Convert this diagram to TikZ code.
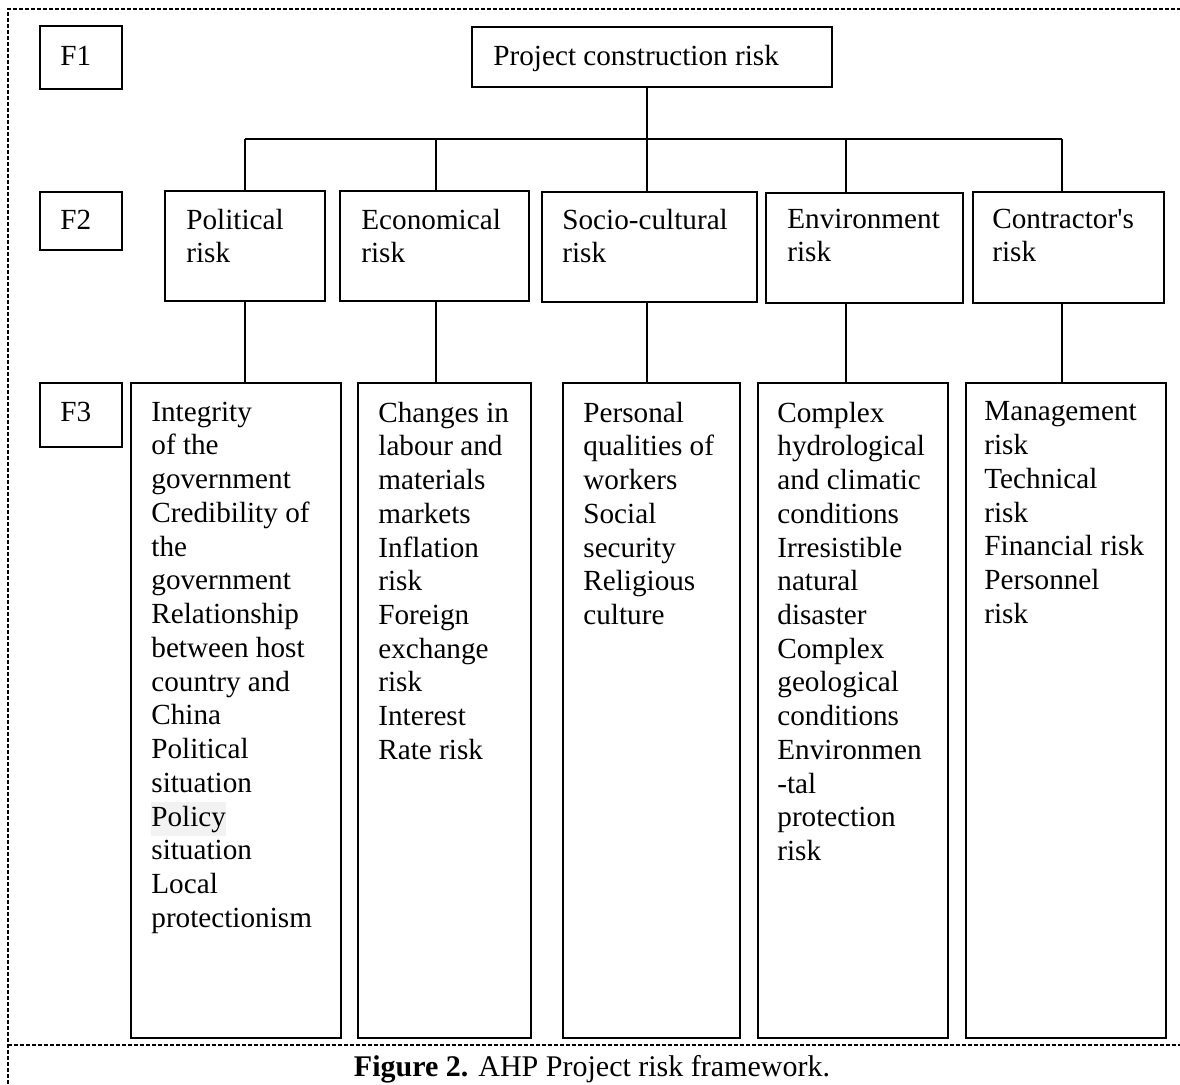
\documentclass[tikz,border=0pt]{standalone}
\usepackage{fontspec}
\setmainfont{Liberation Serif}
\usetikzlibrary{fit}
\definecolor{hl}{HTML}{F2F2F2}
\setlength{\fboxsep}{0pt}
\begin{document}
\begin{tikzpicture}[x=0.5pt,y=-0.5pt,
  every node/.style={font=\fontsize{14.6}{16.87}\selectfont},
  boxnode/.style={draw,line width=1pt,inner sep=0pt,rectangle},
  lbl/.style={inner sep=0pt,align=left,anchor=north west,execute at begin node=\strut},
  tag/.style={inner sep=0pt,anchor=base west},
  conn/.style={line width=0.8pt},
  border/.style={line width=1pt,dash pattern=on 2.2pt off 0.8pt}]
\useasboundingbox (0,0) rectangle (1180,1084);
% border
\coordinate (bl1) at (8,1084);
\coordinate (bl2) at (8,9);
\coordinate (bl3) at (1180,9);
\coordinate (bl4) at (8,1045);
\coordinate (bl5) at (1180,1045);
\draw[border] (bl1) -- (bl2) -- (bl3);
\draw[border] (bl4) -- (bl5);
% level tags
\node[boxnode,fit={(40,26) (122,89)}] (f1) {};
\node[tag] (f1t) at (60,65) {F1};
\node[boxnode,fit={(40,192) (122,250)}] (f2) {};
\node[tag] (f2t) at (60,229) {F2};
\node[boxnode,fit={(40,383) (122,447)}] (f3) {};
\node[tag] (f3t) at (60,421) {F3};
% top
\node[boxnode,fit={(472,27) (832,87)}] (top) {};
\node[tag] (topt) at (493,65) {Project construction risk};
% level 2
\node[boxnode,fit={(165,191) (325,301)}] (pol) {};
\node[lbl] (polt) at (186,208.4) {Political\\risk};
\node[boxnode,fit={(340,191) (529,301)}] (eco) {};
\node[lbl] (ecot) at (361,208.4) {Economical\\risk};
\node[boxnode,fit={(542,192) (757,302)}] (soc) {};
\node[lbl] (soct) at (562,208.4) {Socio-cultural\\risk};
\node[boxnode,fit={(766,193) (963,303)}] (env) {};
\node[lbl] (envt) at (787,208.4) {Environment\\risk};
\node[boxnode,fit={(973,192) (1164,303)}] (con) {};
\node[lbl] (cont) at (992,208.4) {Contractor\textquotesingle s\\risk};
% level 3
\node[boxnode,fit={(131,383) (341,1038)}] (polL) {};
\node[lbl] (polLt) at (151,401.4) {Integrity\\of the\\government\\Credibility of\\the\\government\\Relationship\\between host\\country and\\China\\Political\\situation\\\colorbox{hl}{\strut Policy}\\situation\\Local\\protectionism};
\node[boxnode,fit={(358,383) (531,1038)}] (ecoL) {};
\node[lbl] (ecoLt) at (378,401.4) {Changes in\\labour and\\materials\\markets\\Inflation\\risk\\Foreign\\exchange\\risk\\Interest\\Rate risk};
\node[boxnode,fit={(563,383) (740,1038)}] (socL) {};
\node[lbl] (socLt) at (583,401.4) {Personal\\qualities of\\workers\\Social\\security\\Religious\\culture};
\node[boxnode,fit={(758,383) (948,1038)}] (envL) {};
\node[lbl] (envLt) at (777,401.4) {Complex\\hydrological\\and climatic\\conditions\\Irresistible\\natural\\disaster\\Complex\\geological\\conditions\\Environmen\\-tal\\protection\\risk};
\node[boxnode,fit={(966,383) (1166,1038)}] (conL) {};
\node[lbl] (conLt) at (984,401.4) {Management\\risk\\Technical\\risk\\Financial risk\\Personnel\\risk};
% connectors
\coordinate (b1) at (245,139);
\coordinate (b2) at (436,139);
\coordinate (b3) at (647,139);
\coordinate (b4) at (846,139);
\coordinate (b5) at (1062,139);
\draw[conn] (b3 |- top.south) -- (b3);
\draw[conn] (b1) -- (b5);
\draw[conn] (b1) -- (b1 |- pol.north);
\draw[conn] (b2) -- (b2 |- eco.north);
\draw[conn] (b3) -- (b3 |- soc.north);
\draw[conn] (b4) -- (b4 |- env.north);
\draw[conn] (b5) -- (b5 |- con.north);
\draw[conn] (b1 |- pol.south) -- (b1 |- polL.north);
\draw[conn] (b2 |- eco.south) -- (b2 |- ecoL.north);
\draw[conn] (b3 |- soc.south) -- (b3 |- socL.north);
\draw[conn] (b4 |- env.south) -- (b4 |- envL.north);
\draw[conn] (b5 |- con.south) -- (b5 |- conL.north);
% caption
\node[anchor=base,inner sep=0pt,font=\fontsize{15}{17}\selectfont] (cap) at (592,1076) {\textbf{Figure 2.} AHP Project risk framework.};
\end{tikzpicture}
\end{document}
